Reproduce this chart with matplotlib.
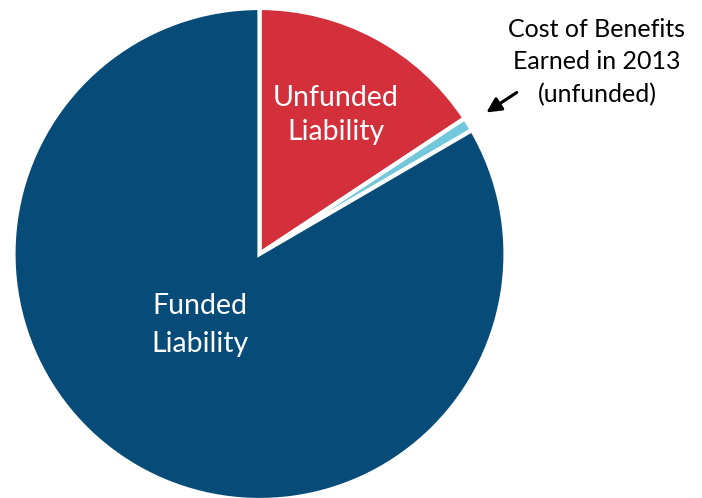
import matplotlib
matplotlib.use("Agg")
import matplotlib.pyplot as plt

labels = ["Unfunded Liability", "Cost of Benefits Earned in 2013 (unfunded)", "Funded Liability"]
values = [15.7, 0.9, 83.4]
colors = ["#D3303C", "#73C7DB", "#074B79"]

W, H = 702, 498
fig = plt.figure(figsize=(W / 100, H / 100), dpi=100)
ax = fig.add_axes([0, 0, 1, 1])

cx, cy, r = 259.5, H - 254, 246
ax.pie(values, colors=colors, startangle=90, counterclock=False,
       center=(cx, cy), radius=r, frame=True,
       wedgeprops=dict(edgecolor="white", linewidth=3))
ax.set_xlim(0, W)
ax.set_ylim(0, H)
ax.set_aspect("equal")
ax.axis("off")

font = "Lato"
ax.text(336, H - 115, "Unfunded\nLiability", color="white", fontsize=20.5,
        ha="center", va="center", family=font, linespacing=1.42)
ax.text(200, H - 325, "Funded\nLiability", color="white", fontsize=20.5,
        ha="center", va="center", family=font, linespacing=1.55)
ax.text(597, H - 62, "Cost of Benefits\nEarned in 2013\n(unfunded)", color="black",
        fontsize=18, ha="center", va="center", family=font, linespacing=1.5)
ax.annotate("", xy=(484, H - 114), xytext=(519, H - 91),
            arrowprops=dict(arrowstyle="-|>", color="black", lw=2.2,
                            mutation_scale=22))

fig.savefig("out.png", dpi=100, facecolor="white")
